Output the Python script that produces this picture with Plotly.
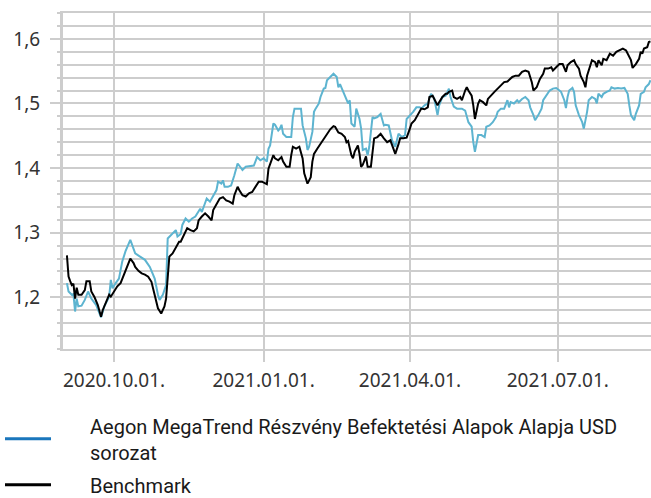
import plotly.graph_objects as go

# ---------------- data ----------------
fund_name = "Aegon MegaTrend Részvény Befektetési Alapok Alapja USD<br>sorozat"
bench_name = "Benchmark"

fund_dates = [
    "2020-09-02", "2020-09-03", "2020-09-05", "2020-09-06", "2020-09-07", "2020-09-08", "2020-09-09",
    "2020-09-11", "2020-09-13", "2020-09-15", "2020-09-17", "2020-09-20", "2020-09-22", "2020-09-23",
    "2020-09-25", "2020-09-28", "2020-09-29", "2020-09-30", "2020-10-02", "2020-10-04", "2020-10-06",
    "2020-10-08", "2020-10-11", "2020-10-12", "2020-10-14", "2020-10-17", "2020-10-20", "2020-10-23",
    "2020-10-26", "2020-10-28", "2020-10-29", "2020-10-31", "2020-11-02", "2020-11-03", "2020-11-05",
    "2020-11-08", "2020-11-09", "2020-11-11", "2020-11-12", "2020-11-14", "2020-11-16", "2020-11-18",
    "2020-11-20", "2020-11-22", "2020-11-23", "2020-11-24", "2020-11-26", "2020-11-27", "2020-11-29",
    "2020-12-01", "2020-12-03", "2020-12-04", "2020-12-06", "2020-12-07", "2020-12-08", "2020-12-10",
    "2020-12-12", "2020-12-14", "2020-12-16", "2020-12-17", "2020-12-19", "2020-12-21", "2020-12-24",
    "2020-12-26", "2020-12-28", "2020-12-30", "2021-01-01", "2021-01-03", "2021-01-04", "2021-01-05",
    "2021-01-07", "2021-01-08", "2021-01-10", "2021-01-11", "2021-01-12", "2021-01-13", "2021-01-15",
    "2021-01-18", "2021-01-19", "2021-01-20", "2021-01-22", "2021-01-24", "2021-01-25", "2021-01-27",
    "2021-01-28", "2021-01-29", "2021-01-31", "2021-02-01", "2021-02-02", "2021-02-04", "2021-02-05",
    "2021-02-07", "2021-02-08", "2021-02-09", "2021-02-11", "2021-02-13", "2021-02-15", "2021-02-16",
    "2021-02-17", "2021-02-19", "2021-02-20", "2021-02-22", "2021-02-23", "2021-02-24", "2021-02-26",
    "2021-02-27", "2021-03-01", "2021-03-02", "2021-03-03", "2021-03-05", "2021-03-06", "2021-03-07",
    "2021-03-09", "2021-03-10", "2021-03-12", "2021-03-14", "2021-03-16", "2021-03-17", "2021-03-19",
    "2021-03-21", "2021-03-23", "2021-03-24", "2021-03-25", "2021-03-27", "2021-03-29", "2021-03-30",
    "2021-04-01", "2021-04-03", "2021-04-05", "2021-04-07", "2021-04-08", "2021-04-10", "2021-04-12",
    "2021-04-14", "2021-04-15", "2021-04-16", "2021-04-18", "2021-04-19", "2021-04-21", "2021-04-23",
    "2021-04-25", "2021-04-26", "2021-04-28", "2021-04-30", "2021-05-03", "2021-05-05", "2021-05-07",
    "2021-05-09", "2021-05-10", "2021-05-11", "2021-05-13", "2021-05-15", "2021-05-17", "2021-05-18",
    "2021-05-20", "2021-05-22", "2021-05-24", "2021-05-25", "2021-05-27", "2021-05-29", "2021-05-31",
    "2021-06-01", "2021-06-02", "2021-06-04", "2021-06-06", "2021-06-07", "2021-06-09", "2021-06-11",
    "2021-06-13", "2021-06-14", "2021-06-16", "2021-06-17", "2021-06-19", "2021-06-21", "2021-06-22",
    "2021-06-24", "2021-06-26", "2021-06-28", "2021-06-30", "2021-07-02", "2021-07-03", "2021-07-05",
    "2021-07-06", "2021-07-07", "2021-07-08", "2021-07-10", "2021-07-11", "2021-07-12", "2021-07-14",
    "2021-07-16", "2021-07-17", "2021-07-19", "2021-07-20", "2021-07-22", "2021-07-24", "2021-07-25",
    "2021-07-26", "2021-07-28", "2021-07-29", "2021-07-31", "2021-08-02", "2021-08-03", "2021-08-05",
    "2021-08-07", "2021-08-09", "2021-08-11", "2021-08-13", "2021-08-14", "2021-08-15", "2021-08-17",
    "2021-08-18", "2021-08-20", "2021-08-21", "2021-08-23", "2021-08-24", "2021-08-26", "2021-08-27",
]
fund_values = [
    1.222, 1.209, 1.204, 1.205, 1.178, 1.198, 1.186,
    1.187, 1.196, 1.209, 1.198, 1.188, 1.175, 1.169,
    1.186, 1.201, 1.227, 1.214, 1.222, 1.229, 1.255,
    1.271, 1.289, 1.281, 1.268, 1.263, 1.258, 1.247,
    1.229, 1.204, 1.196, 1.204, 1.219, 1.291, 1.296,
    1.304, 1.294, 1.298, 1.312, 1.322, 1.317, 1.322,
    1.325, 1.332, 1.337, 1.332, 1.345, 1.353, 1.348,
    1.358, 1.366, 1.379, 1.376, 1.381, 1.371, 1.371,
    1.373, 1.389, 1.407, 1.404, 1.397, 1.402, 1.403,
    1.404, 1.417, 1.412, 1.415, 1.410, 1.430, 1.435,
    1.469, 1.467, 1.458, 1.461, 1.467, 1.453, 1.448,
    1.448, 1.479, 1.492, 1.492, 1.492, 1.466, 1.446,
    1.428, 1.433, 1.456, 1.487, 1.492, 1.500, 1.510,
    1.523, 1.524, 1.536, 1.541, 1.546, 1.541, 1.525,
    1.530, 1.518, 1.513, 1.500, 1.505, 1.469, 1.464,
    1.492, 1.476, 1.461, 1.428, 1.430, 1.420, 1.433,
    1.479, 1.477, 1.479, 1.484, 1.466, 1.467, 1.466,
    1.443, 1.433, 1.446, 1.453, 1.448, 1.451, 1.476,
    1.481, 1.487, 1.494, 1.494, 1.492, 1.497, 1.500,
    1.515, 1.512, 1.507, 1.482, 1.497, 1.510, 1.512,
    1.523, 1.510, 1.495, 1.492, 1.492, 1.489, 1.471,
    1.464, 1.440, 1.425, 1.451, 1.451, 1.448, 1.464,
    1.466, 1.471, 1.479, 1.487, 1.492, 1.492, 1.505,
    1.494, 1.502, 1.500, 1.505, 1.502, 1.507, 1.510,
    1.505, 1.494, 1.482, 1.474, 1.482, 1.492, 1.505,
    1.512, 1.520, 1.523, 1.524, 1.520, 1.518, 1.505,
    1.493, 1.510, 1.520, 1.524, 1.518, 1.497, 1.482,
    1.471, 1.461, 1.487, 1.505, 1.510, 1.507, 1.500,
    1.515, 1.510, 1.515, 1.518, 1.520, 1.525, 1.523,
    1.524, 1.523, 1.524, 1.515, 1.497, 1.482, 1.474,
    1.484, 1.497, 1.515, 1.518, 1.525, 1.530, 1.536,
]

bench_dates = [
    "2020-09-02", "2020-09-03", "2020-09-04", "2020-09-05", "2020-09-06", "2020-09-07", "2020-09-08",
    "2020-09-09", "2020-09-11", "2020-09-13", "2020-09-14", "2020-09-16", "2020-09-17", "2020-09-19",
    "2020-09-21", "2020-09-23", "2020-09-24", "2020-09-26", "2020-09-28", "2020-09-29", "2020-10-01",
    "2020-10-03", "2020-10-05", "2020-10-07", "2020-10-09", "2020-10-11", "2020-10-13", "2020-10-14",
    "2020-10-16", "2020-10-18", "2020-10-20", "2020-10-22", "2020-10-24", "2020-10-26", "2020-10-28",
    "2020-10-30", "2020-11-01", "2020-11-02", "2020-11-03", "2020-11-04", "2020-11-06", "2020-11-08",
    "2020-11-10", "2020-11-11", "2020-11-13", "2020-11-15", "2020-11-17", "2020-11-19", "2020-11-21",
    "2020-11-22", "2020-11-24", "2020-11-26", "2020-11-28", "2020-11-30", "2020-12-01", "2020-12-03",
    "2020-12-05", "2020-12-07", "2020-12-09", "2020-12-11", "2020-12-13", "2020-12-14", "2020-12-16",
    "2020-12-17", "2020-12-19", "2020-12-21", "2020-12-23", "2020-12-25", "2020-12-27", "2020-12-29",
    "2020-12-31", "2021-01-02", "2021-01-03", "2021-01-04", "2021-01-06", "2021-01-07", "2021-01-08",
    "2021-01-10", "2021-01-12", "2021-01-13", "2021-01-15", "2021-01-17", "2021-01-18", "2021-01-19",
    "2021-01-21", "2021-01-23", "2021-01-25", "2021-01-26", "2021-01-28", "2021-01-30", "2021-01-31",
    "2021-02-01", "2021-02-03", "2021-02-05", "2021-02-07", "2021-02-09", "2021-02-11", "2021-02-13",
    "2021-02-14", "2021-02-16", "2021-02-18", "2021-02-20", "2021-02-21", "2021-02-22", "2021-02-24",
    "2021-02-25", "2021-02-26", "2021-02-28", "2021-03-01", "2021-03-02", "2021-03-03", "2021-03-05",
    "2021-03-06", "2021-03-08", "2021-03-09", "2021-03-10", "2021-03-12", "2021-03-14", "2021-03-16",
    "2021-03-18", "2021-03-20", "2021-03-21", "2021-03-23", "2021-03-25", "2021-03-26", "2021-03-28",
    "2021-03-30", "2021-04-01", "2021-04-02", "2021-04-04", "2021-04-06", "2021-04-08", "2021-04-10",
    "2021-04-12", "2021-04-13", "2021-04-15", "2021-04-16", "2021-04-18", "2021-04-19", "2021-04-21",
    "2021-04-23", "2021-04-24", "2021-04-25", "2021-04-27", "2021-04-28", "2021-04-30", "2021-05-02",
    "2021-05-03", "2021-05-05", "2021-05-06", "2021-05-07", "2021-05-09", "2021-05-10", "2021-05-11",
    "2021-05-13", "2021-05-14", "2021-05-16", "2021-05-18", "2021-05-19", "2021-05-20", "2021-05-23",
    "2021-05-25", "2021-05-27", "2021-05-29", "2021-05-31", "2021-06-02", "2021-06-03", "2021-06-05",
    "2021-06-07", "2021-06-09", "2021-06-11", "2021-06-13", "2021-06-15", "2021-06-16", "2021-06-18",
    "2021-06-20", "2021-06-22", "2021-06-23", "2021-06-25", "2021-06-27", "2021-06-28", "2021-06-30",
    "2021-07-02", "2021-07-04", "2021-07-06", "2021-07-07", "2021-07-09", "2021-07-11", "2021-07-12",
    "2021-07-14", "2021-07-15", "2021-07-17", "2021-07-18", "2021-07-19", "2021-07-21", "2021-07-22",
    "2021-07-24", "2021-07-25", "2021-07-26", "2021-07-28", "2021-07-29", "2021-07-31", "2021-08-02",
    "2021-08-04", "2021-08-06", "2021-08-08", "2021-08-10", "2021-08-12", "2021-08-13", "2021-08-15",
    "2021-08-16", "2021-08-18", "2021-08-20", "2021-08-21", "2021-08-22", "2021-08-23", "2021-08-25",
    "2021-08-26", "2021-08-27",
]
bench_values = [
    1.265, 1.232, 1.225, 1.219, 1.221, 1.198, 1.215,
    1.204, 1.204, 1.211, 1.225, 1.225, 1.209, 1.200,
    1.188, 1.170, 1.180, 1.193, 1.204, 1.201, 1.209,
    1.217, 1.222, 1.234, 1.247, 1.260, 1.253, 1.247,
    1.241, 1.237, 1.235, 1.232, 1.224, 1.201, 1.183,
    1.175, 1.186, 1.198, 1.234, 1.263, 1.268, 1.278,
    1.286, 1.286, 1.296, 1.307, 1.304, 1.302, 1.307,
    1.319, 1.325, 1.330, 1.325, 1.319, 1.335, 1.343,
    1.353, 1.355, 1.350, 1.348, 1.345, 1.358, 1.371,
    1.366, 1.358, 1.356, 1.361, 1.363, 1.371, 1.379,
    1.379, 1.376, 1.375, 1.399, 1.415, 1.420, 1.415,
    1.412, 1.417, 1.410, 1.402, 1.402, 1.420, 1.433,
    1.430, 1.433, 1.415, 1.392, 1.376, 1.386, 1.410,
    1.422, 1.430, 1.438, 1.446, 1.453, 1.460, 1.465,
    1.464, 1.455, 1.453, 1.448, 1.440, 1.442, 1.420,
    1.415, 1.425, 1.435, 1.422, 1.402, 1.405, 1.418,
    1.402, 1.402, 1.422, 1.446, 1.448, 1.453, 1.446,
    1.440, 1.443, 1.437, 1.422, 1.437, 1.446, 1.446,
    1.447, 1.461, 1.469, 1.474, 1.484, 1.492, 1.491,
    1.494, 1.510, 1.512, 1.507, 1.497, 1.502, 1.510,
    1.515, 1.515, 1.518, 1.520, 1.510, 1.507, 1.510,
    1.505, 1.520, 1.525, 1.520, 1.512, 1.497, 1.476,
    1.500, 1.505, 1.502, 1.497, 1.507, 1.510, 1.518,
    1.523, 1.528, 1.533, 1.534, 1.538, 1.541, 1.543,
    1.543, 1.549, 1.551, 1.549, 1.533, 1.520, 1.525,
    1.538, 1.546, 1.554, 1.554, 1.556, 1.551, 1.556,
    1.561, 1.561, 1.549, 1.559, 1.564, 1.567, 1.561,
    1.554, 1.543, 1.533, 1.525, 1.543, 1.559, 1.567,
    1.564, 1.556, 1.567, 1.559, 1.569, 1.567, 1.577,
    1.574, 1.580, 1.582, 1.585, 1.582, 1.577, 1.567,
    1.555, 1.561, 1.569, 1.580, 1.577, 1.585, 1.587,
    1.595, 1.596,
]

x_tick_dates = ["2020-10-01", "2021-01-01", "2021-04-01", "2021-07-01"]
x_tick_labels = ["2020.10.01.", "2021.01.01.", "2021.04.01.", "2021.07.01."]
x_range = ["2020-08-30 14:00", "2021-08-27 08:00"]
y_range = [1.12, 1.64]

# ---------------- styling ----------------
FUND_LINE = "#5db4d0"
FUND_KEY = "#1a76bc"
BENCH_LINE = "#000000"
GRID = "#cdcdcd"
TEXT = "#333333"

fig = go.Figure()
fig.add_trace(go.Scatter(x=fund_dates, y=fund_values, mode="lines", name=fund_name,
                         line=dict(color=FUND_LINE, width=2), showlegend=False))
fig.add_trace(go.Scatter(x=bench_dates, y=bench_values, mode="lines", name=bench_name,
                         line=dict(color=BENCH_LINE, width=2), showlegend=False))
# legend keys (legend-only entries)
fig.add_trace(go.Scatter(x=[None], y=[None], mode="lines", name=fund_name, legendgroup="fund",
                         line=dict(color=FUND_KEY, width=3, dash="46px,80px")))
fig.add_trace(go.Scatter(x=[None], y=[None], mode="lines", name=bench_name, legendgroup="bench",
                         line=dict(color=BENCH_LINE, width=3, dash="46px,80px")))

fig.update_layout(
    width=651, height=498, autosize=False,
    margin=dict(l=63, r=0, t=13, b=149, pad=0),
    paper_bgcolor="white", plot_bgcolor="white",
    separators=", ",
    font=dict(family="Noto Sans", size=19, color=TEXT),
    showlegend=True,
    legend=dict(
        xref="paper", yref="container", x=-0.1075, y=0.184,
        xanchor="left", yanchor="top",
        itemwidth=80, traceorder="grouped", tracegroupgap=4,
        font=dict(family="Roboto", size=20, color="#1a1a1a"),
        bgcolor="rgba(0,0,0,0)", borderwidth=0,
        itemclick=False, itemdoubleclick=False,
    ),
    xaxis=dict(
        type="date", range=x_range, automargin=False,
        tickmode="array", tickvals=x_tick_dates, ticktext=x_tick_labels,
        tickangle=0,
        showgrid=True, gridcolor=GRID, gridwidth=2,
        ticks="outside", ticklen=11, tickwidth=2, tickcolor=GRID,
        showline=True, linecolor=GRID, linewidth=2, mirror=True,
        tickfont=dict(family="Noto Sans", size=19, color=TEXT),
        ticklabelstandoff=2,
        zeroline=False,
    ),
    yaxis=dict(
        range=y_range, automargin=False,
        dtick=0.1, tick0=0, tickformat=".1f",
        showgrid=True, gridcolor=GRID, gridwidth=2,
        ticks="outside", ticklen=10, tickwidth=2, tickcolor=GRID,
        showline=True, linecolor=GRID, linewidth=3,
        minor=dict(dtick=0.02, tick0=0, showgrid=True, gridcolor=GRID, gridwidth=2,
                   ticks="outside", ticklen=3, tickwidth=2, tickcolor=GRID),
        tickfont=dict(family="Noto Sans", size=19, color=TEXT),
        ticklabelstandoff=6,
        zeroline=False,
    ),
)

fig.write_html(
    "out.html",
    config={"displayModeBar": False, "staticPlot": True},
    post_script="document.body.style.margin='0';document.body.style.padding='0';",
)
